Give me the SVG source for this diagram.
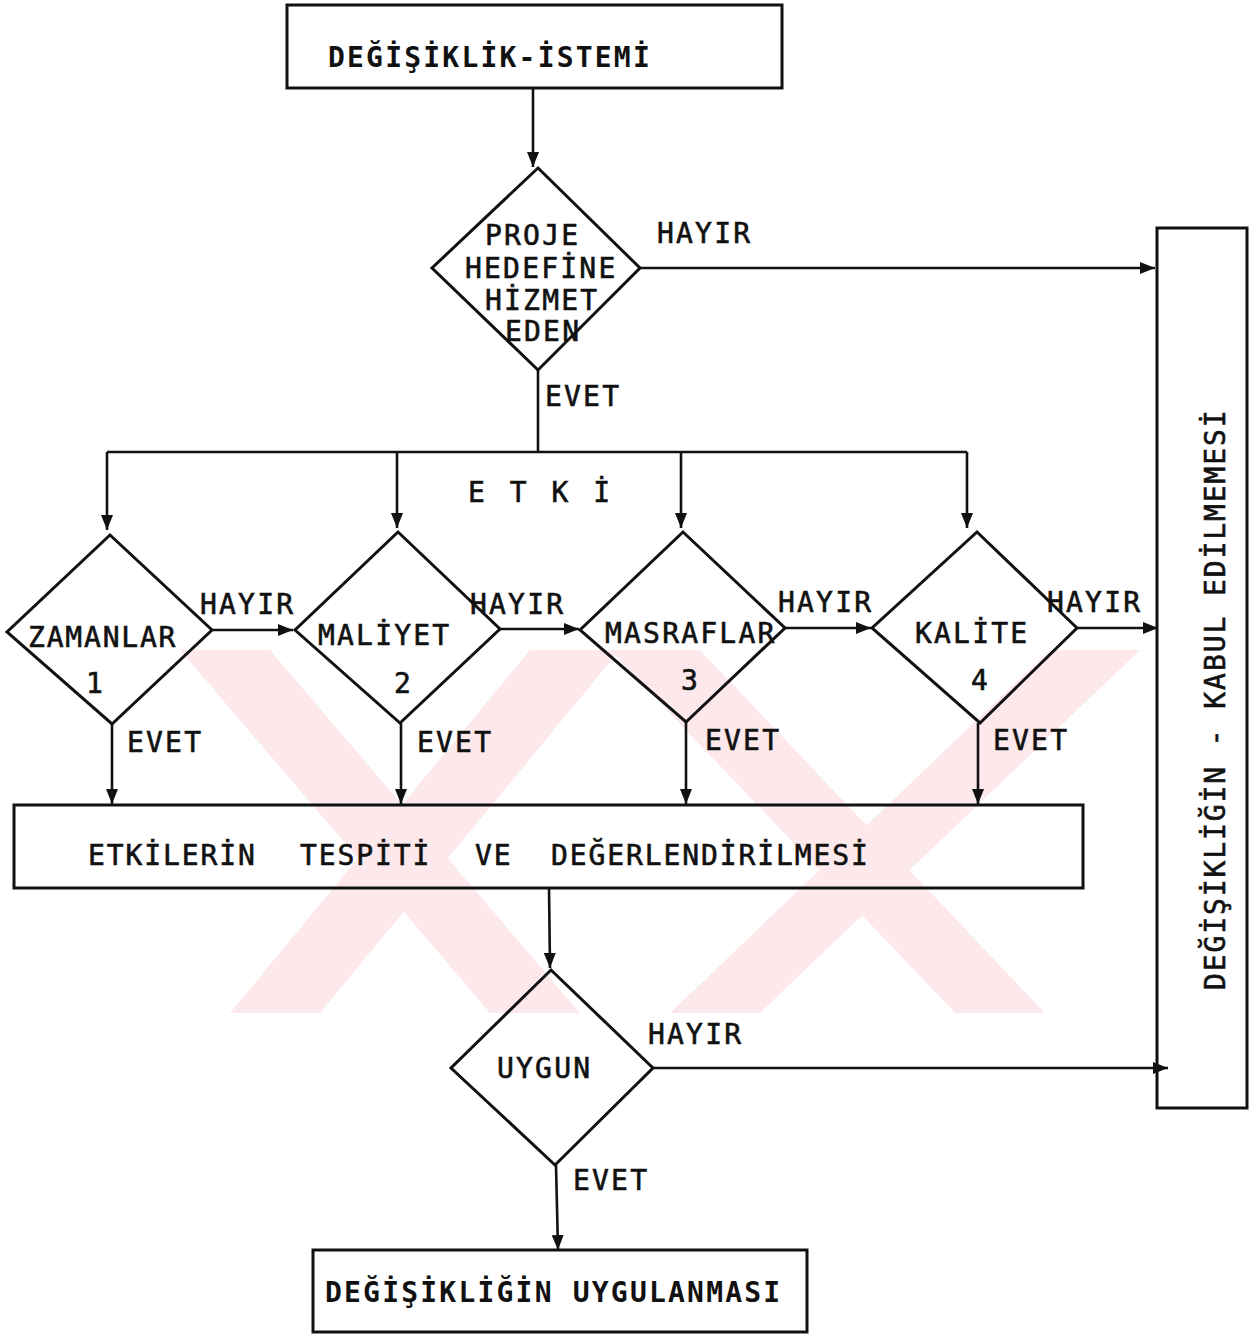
<svg xmlns="http://www.w3.org/2000/svg" width="1250" height="1336" viewBox="0 0 1250 1336">
<style>
  .t { font-family: "DejaVu Sans Mono", "Liberation Mono", monospace; font-size: 28px; font-weight: bold; fill: #111; letter-spacing: 2.2px; }
  .tl { font-family: "DejaVu Sans Mono", "Liberation Mono", monospace; font-size: 28px; font-weight: normal; fill: #111; letter-spacing: 2.2px; stroke: #111; stroke-width: 0.6px; }
  .box { fill: none; stroke: #111; stroke-width: 3; }
  .ln { fill: none; stroke: #111; stroke-width: 2.6; }
  .wm { fill: #fde9eb; }
</style>
<defs>
  <marker id="ah" markerUnits="userSpaceOnUse" markerWidth="16" markerHeight="12" refX="15" refY="6" orient="auto">
    <path d="M0,0 L15,6 L0,12 z" fill="#111"/>
  </marker>
</defs>
<rect x="0" y="0" width="1250" height="1336" fill="#ffffff"/>

<g id="watermark">
  <polygon class="wm" points="180,650 270,650 580,1013 490,1013"/>
  <polygon class="wm" points="530,650 620,650 320,1013 230,1013"/>
  <polygon class="wm" points="610,650 700,650 1045,1013 955,1013"/>
  <polygon class="wm" points="1050,650 1140,650 760,1013 670,1013"/>
</g>

<g id="connectors">
  <line class="ln" x1="533" y1="88" x2="533" y2="167" marker-end="url(#ah)"/>
  <line class="ln" x1="640" y1="268" x2="1155" y2="268" marker-end="url(#ah)"/>
  <polyline class="ln" points="538,370 538,452"/>
  <polyline class="ln" points="107,452 967,452"/>
  <line class="ln" x1="107" y1="452" x2="107" y2="530" marker-end="url(#ah)"/>
  <line class="ln" x1="397" y1="452" x2="397" y2="528" marker-end="url(#ah)"/>
  <line class="ln" x1="681" y1="452" x2="681" y2="528" marker-end="url(#ah)"/>
  <line class="ln" x1="967" y1="452" x2="967" y2="528" marker-end="url(#ah)"/>
  <line class="ln" x1="212" y1="630" x2="293" y2="630" marker-end="url(#ah)"/>
  <line class="ln" x1="500" y1="629" x2="579" y2="629" marker-end="url(#ah)"/>
  <line class="ln" x1="785" y1="628" x2="871" y2="628" marker-end="url(#ah)"/>
  <line class="ln" x1="1077" y1="628" x2="1158" y2="628" marker-end="url(#ah)"/>
  <line class="ln" x1="112" y1="724" x2="112" y2="804" marker-end="url(#ah)"/>
  <line class="ln" x1="401" y1="723" x2="401" y2="804" marker-end="url(#ah)"/>
  <line class="ln" x1="686" y1="722" x2="686" y2="804" marker-end="url(#ah)"/>
  <line class="ln" x1="978" y1="723" x2="978" y2="804" marker-end="url(#ah)"/>
  <line class="ln" x1="549" y1="888" x2="550" y2="968" marker-end="url(#ah)"/>
  <line class="ln" x1="653" y1="1068" x2="1168" y2="1068" marker-end="url(#ah)"/>
  <line class="ln" x1="556" y1="1165" x2="558" y2="1250" marker-end="url(#ah)"/>
  <text class="tl" x="657" y="243">HAYIR</text>
  <text class="tl" x="545" y="406">EVET</text>
  <text class="tl" x="468" y="502" style="letter-spacing:4px">E T K İ</text>
  <text class="tl" x="200" y="614">HAYIR</text>
  <text class="tl" x="470" y="614">HAYIR</text>
  <text class="tl" x="778" y="612">HAYIR</text>
  <text class="tl" x="1047" y="612">HAYIR</text>
  <text class="tl" x="127" y="752">EVET</text>
  <text class="tl" x="417" y="752">EVET</text>
  <text class="tl" x="705" y="750">EVET</text>
  <text class="tl" x="993" y="750">EVET</text>
  <text class="tl" x="648" y="1044">HAYIR</text>
  <text class="tl" x="573" y="1190">EVET</text>
</g>

<g id="n-istem">
  <rect class="box" x="287" y="5" width="495" height="83"/>
  <text class="t" x="328" y="67">DEĞİŞİKLİK-İSTEMİ</text>
</g>

<g id="n-proje">
  <polygon class="box" points="538,168 640,268 538,370 432,268"/>
  <text class="tl" x="485" y="245">PROJE</text>
  <text class="tl" x="465" y="278">HEDEFİNE</text>
  <text class="tl" x="485" y="310">HİZMET</text>
  <text class="tl" x="505" y="341">EDEN</text>
</g>

<g id="n-zaman">
  <polygon class="box" points="110,535 212,630 112,724 7,632"/>
  <text class="tl" x="28" y="647" style="letter-spacing:1.8px">ZAMANLAR</text>
  <text class="tl" x="86" y="693">1</text>
</g>

<g id="n-maliyet">
  <polygon class="box" points="398,532 500,629 400,723 295,630"/>
  <text class="tl" x="318" y="645">MALİYET</text>
  <text class="tl" x="394" y="693">2</text>
</g>

<g id="n-masraf">
  <polygon class="box" points="683,532 785,628 686,722 580,630"/>
  <text class="tl" x="605" y="643">MASRAFLAR</text>
  <text class="tl" x="681" y="690">3</text>
</g>

<g id="n-kalite">
  <polygon class="box" points="977,532 1077,628 980,723 872,628"/>
  <text class="tl" x="915" y="643">KALİTE</text>
  <text class="tl" x="971" y="690">4</text>
</g>

<g id="n-etki">
  <rect class="box" x="14" y="805" width="1069" height="83"/>
  <text class="tl" y="865" style="letter-spacing:1.9px"><tspan x="88">ETKİLERİN</tspan><tspan x="300">TESPİTİ</tspan><tspan x="475">VE</tspan><tspan x="551">DEĞERLENDİRİLMESİ</tspan></text>
</g>

<g id="n-uygun">
  <polygon class="box" points="551,970 653,1068 555,1165 451,1068"/>
  <text class="tl" x="497" y="1078">UYGUN</text>
</g>

<g id="n-uygulama">
  <rect class="box" x="313" y="1250" width="494" height="82"/>
  <text class="t" x="325" y="1302">DEĞİŞİKLİĞİN UYGULANMASI</text>
</g>

<g id="n-red">
  <rect class="box" x="1157" y="228" width="90" height="880"/>
  <text class="tl" transform="translate(1225,990) rotate(-90)" style="letter-spacing:1.9px">DEĞİŞİKLİĞİN - KABUL EDİLMEMESİ</text>
</g>
</svg>
